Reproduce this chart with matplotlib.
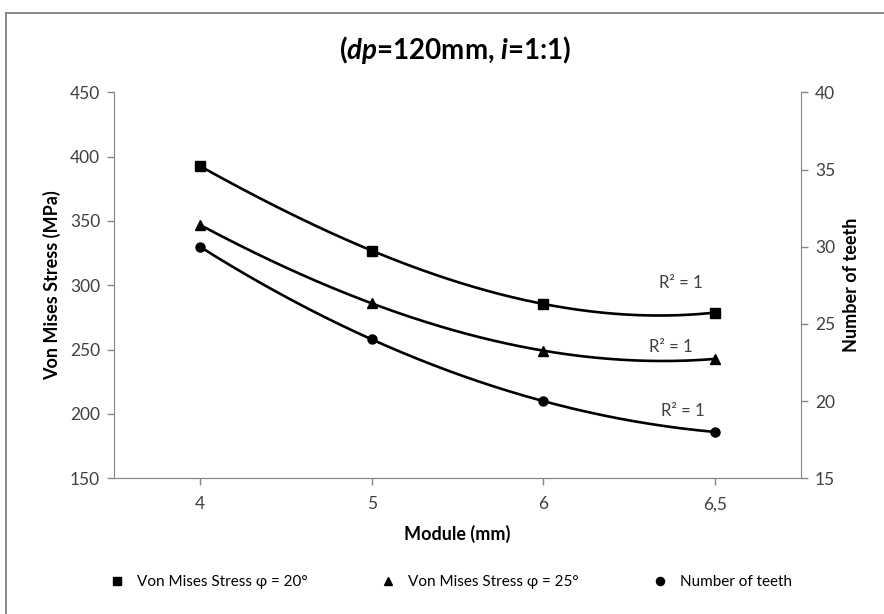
import numpy as np
import matplotlib
matplotlib.use("Agg")
import matplotlib.pyplot as plt
from matplotlib.lines import Line2D

plt.rcParams['font.family'] = ['Lato', 'DejaVu Sans']
plt.rcParams['mathtext.fontset'] = 'custom'
plt.rcParams['mathtext.rm'] = 'Lato:bold'
plt.rcParams['mathtext.bfit'] = 'Lato:italic:bold'
plt.rcParams['mathtext.it'] = 'Lato:italic:bold'

modules = ['4', '5', '6', '6,5']
stress_20 = [392.7, 327, 285.5, 278.8]
stress_25 = [347, 286, 249.2, 242.8]
teeth = [30, 24, 20, 18]

TXT = '#404040'
AXC = '#868686'

fig = plt.figure(figsize=(8.84, 6.14), dpi=100)
# chart-area border: only the left and top edges show in the reference
bx, by = 5.5 / 884, 1 - 12.5 / 614
fig.lines.append(Line2D([bx, bx], [0, by], transform=fig.transFigure, color='#808080', lw=1.3))
fig.lines.append(Line2D([bx, 1], [by, by], transform=fig.transFigure, color='#808080', lw=1.3))

ax = fig.add_axes([114 / 884, 1 - 478.3 / 614, (801 - 114) / 884, (478.3 - 92.3) / 614])
ax2 = ax.twinx()

x = np.arange(1, len(modules) + 1)
xs = np.linspace(1, len(modules), 200)


def trend(ax_, y):
    # Excel polynomial (order 3) trendline over the category index
    c = np.polyfit(x, y, 3)
    ax_.plot(xs, np.polyval(c, xs), color='black', lw=1.9, zorder=2)


trend(ax, stress_20)
trend(ax, stress_25)
trend(ax2, teeth)
h1, = ax.plot(x, stress_20, 's', color='black', ms=6.5, ls='none', zorder=3,
              label='Von Mises Stress \u03c6 = 20°')
h2, = ax.plot(x, stress_25, '^', color='black', ms=6.5, ls='none', zorder=3,
              label='Von Mises Stress \u03c6 = 25°')
h3, = ax2.plot(x, teeth, 'o', color='black', ms=6.5, ls='none', zorder=3,
               label='Number of teeth')

ax.set_xlim(0.5, len(modules) + 0.5)
ax.set_ylim(150, 450)
ax.set_yticks(range(150, 451, 50))
ax2.set_ylim(15, 40)
ax2.set_yticks(range(15, 41, 5))
ax.set_xticks(x)
ax.set_xticklabels(modules)

for a in (ax, ax2):
    for s in a.spines.values():
        s.set_color(AXC)
    a.spines['top'].set_visible(False)
    a.tick_params(colors=AXC, labelcolor=TXT, labelsize=12.5, length=5, width=1)
ax.spines['right'].set_visible(False)
ax2.spines['left'].set_visible(False)
ax.tick_params(axis='y', pad=5)
ax2.tick_params(axis='y', pad=5)
ax.tick_params(axis='x', pad=8)

ax.set_xlabel('Module (mm)', fontsize=13, fontweight='bold', color='black', labelpad=9)
ax.set_ylabel('Von Mises Stress (MPa)', fontsize=13, fontweight='bold', color='black', labelpad=6)
ax2.set_ylabel('Number of teeth', fontsize=13, fontweight='bold', color='black', labelpad=6)

fig.text(455 / 884, 1 - 50 / 614, r'($\mathbfit{dp}$=120mm, $\mathbfit{i}$=1:1)',
         ha='center', va='center', fontsize=20, fontweight='bold')

ax.text(3.80, 302, 'R² = 1', ha='center', va='center', fontsize=12, color=TXT)
ax.text(3.74, 252, 'R² = 1', ha='center', va='center', fontsize=12, color=TXT)
ax.text(3.81, 202.4, 'R² = 1', ha='center', va='center', fontsize=12, color=TXT)

fig.legend(handles=[h1, h2, h3], loc='center', bbox_to_anchor=(452 / 884, 1 - 582 / 614),
           ncol=3, frameon=False, fontsize=11, handlelength=0.6, handletextpad=1.0,
           columnspacing=5.0, markerscale=0.9)

fig.savefig('out.png', dpi=100)
